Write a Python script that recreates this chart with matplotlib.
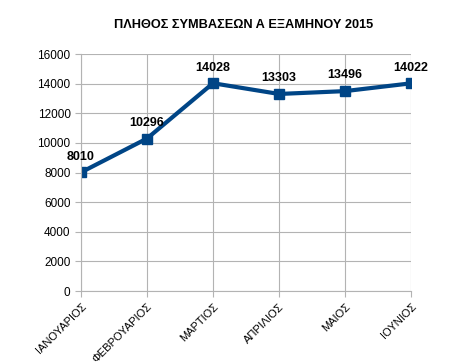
import matplotlib.pyplot as plt

months = ["ΙΑΝΟΥΑΡΙΟΣ", "ΦΕΒΡΟΥΑΡΙΟΣ", "ΜΑΡΤΙΟΣ", "ΑΠΡΙΛΙΟΣ", "ΜΑΙΟΣ", "ΙΟΥΝΙΟΣ"]
contracts = [8010, 10296, 14028, 13303, 13496, 14022]

plt.rcParams['font.family'] = ['Liberation Sans', 'DejaVu Sans']

fig = plt.figure(figsize=(4.72, 3.64), dpi=100)
ax = fig.add_axes([0.1716, 0.2005, 0.6992, 0.6511])

x = list(range(len(months)))
ax.plot(x, contracts, color='#004586', lw=3, marker='s', markersize=7.5)

for xi, v in zip(x, contracts):
    ax.annotate(str(v), (xi, v), xytext=(0, 7), textcoords='offset points',
                ha='center', va='bottom', fontsize=9, fontweight='bold')

ax.set_xlim(0, 5)
ax.set_ylim(0, 16000)
ax.set_yticks(range(0, 16001, 2000))
ax.set_xticks(x)
ax.set_xticklabels(months, rotation=45, ha='right', rotation_mode='anchor', fontsize=8)
ax.tick_params(axis='y', labelsize=8.5, colors='#b3b3b3', labelcolor='black', length=4)
ax.tick_params(axis='x', colors='#b3b3b3', labelcolor='black', length=4)
ax.grid(True, color='#b3b3b3', lw=0.8)
ax.set_axisbelow(True)
for s in ['top', 'right']:
    ax.spines[s].set_visible(False)
for s in ['left', 'bottom']:
    ax.spines[s].set_color('#b3b3b3')

fig.text(0.515, 0.93, "ΠΛΗΘΟΣ ΣΥΜΒΑΣΕΩΝ Α ΕΞΑΜΗΝΟΥ 2015", ha='center', va='center',
         fontsize=9.2, fontweight='bold')

fig.savefig('out.png', dpi=100)
